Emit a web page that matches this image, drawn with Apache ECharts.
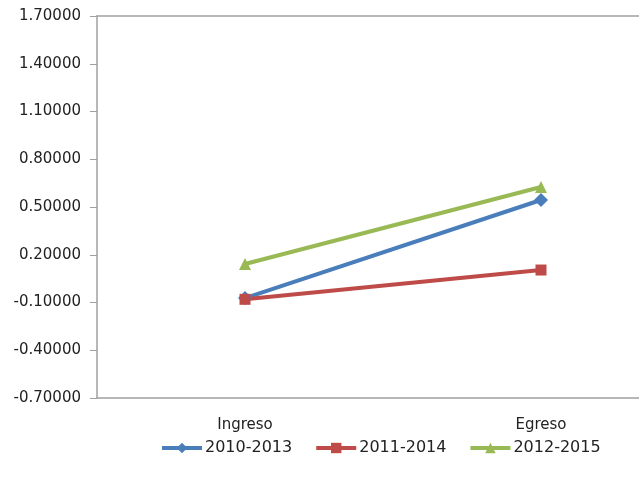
<!DOCTYPE html>
<html><head><meta charset="utf-8">
<script src="https://cdn.jsdelivr.net/npm/echarts@6/dist/echarts.min.js"></script>
<style>html,body{margin:0;padding:0;background:#fff;overflow:hidden}#c{width:700px;height:486px}</style>
</head><body><div id="c"></div>
<script>
const categories = ['Ingreso', 'Egreso'];
const seriesNames = ['2010-2013', '2011-2014', '2012-2015'];
const s2010_2013 = [-0.072, 0.544];
const s2011_2014 = [-0.080, 0.104];
const s2012_2015 = [0.142, 0.626];
const yTicks = [-0.7, -0.4, -0.1, 0.2, 0.5, 0.8, 1.1, 1.4, 1.7];

const FONT = 'DejaVu Sans';
const chart = echarts.init(document.getElementById('c'), null, {renderer: 'canvas'});
const colors = ['#4A7EBB', '#BE4B48', '#98B954'];
const symbols = ['diamond', 'rect', 'triangle'];
const sizes = [14, 11, 12];
const data = [s2010_2013, s2011_2014, s2012_2015];
chart.setOption({
  animation: false,
  grid: {left: 97, top: 16, width: 592, height: 382, containLabel: false},
  legend: {
    left: 155, top: 435, itemWidth: 40, itemHeight: 13, itemGap: 22,
    lineStyle: {width: 4},
    textStyle: {fontFamily: FONT, fontSize: 16, color: '#222', padding: [0,0,0,-2]},
    data: seriesNames
  },
  xAxis: [{
    type: 'category', data: categories, boundaryGap: true,
    axisLine: {onZero: false, lineStyle: {color: '#a0a0a0', width: 1.5}},
    axisTick: {show: false},
    axisLabel: {fontFamily: FONT, fontSize: 15, color: '#222', margin: 20}
  }, {
    type: 'category', data: categories, position: 'top', boundaryGap: true,
    axisLine: {show: true, onZero: false, lineStyle: {color: '#a0a0a0', width: 1.5}},
    axisTick: {show: false}, axisLabel: {show: false}
  }],
  yAxis: {
    type: 'value', min: -0.7, max: 1.7, interval: 0.3,
    axisLine: {show: true, onZero: false, lineStyle: {color: '#a0a0a0', width: 1.5}},
    axisTick: {show: true, length: 7, lineStyle: {color: '#a0a0a0'}},
    splitLine: {show: false},
    axisLabel: {fontFamily: FONT, fontSize: 15, color: '#222', margin: 16,
      formatter: v => v.toFixed(5)}
  },
  series: seriesNames.map((n, i) => ({
    name: n, type: 'line', data: data[i], xAxisIndex: 0,
    symbol: symbols[i], symbolSize: sizes[i],
    lineStyle: {color: colors[i], width: 4},
    itemStyle: {color: colors[i]}
  }))
});
</script></body></html>
